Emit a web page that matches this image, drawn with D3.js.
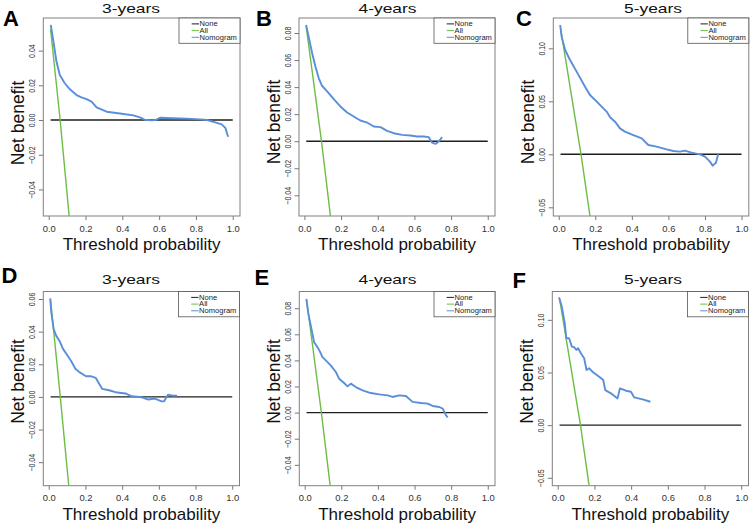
<!DOCTYPE html>
<html><head><meta charset="utf-8">
<script src="https://cdn.jsdelivr.net/npm/d3@7"></script>
<style>
body{margin:0;background:#fff}
svg{display:block;font-family:"Liberation Sans",Arial,Helvetica,sans-serif}
</style>
</head><body>
<svg id="c" width="750" height="525"></svg>
<script>
// ---------- data ----------
const panelLetters = ["A","B","C","D","E","F"];
const panelTitles = ["3-years","4-years","5-years","3-years","4-years","5-years"];
const legendLabels = ["None","All","Nomogram"];
const xTicks = [0, 0.2, 0.4, 0.6, 0.8, 1.0];
const xLimits = [-0.0296, 1.0396];

const yTicksA = [-0.04,-0.02,0,0.02,0.04];
const yTicksB = [-0.04,-0.02,0,0.02,0.04,0.06,0.08];
const yTicksC = [-0.05,0,0.05,0.10];
const yTicksD = [-0.04,-0.02,0,0.02,0.04,0.06];
const yTicksE = [-0.04,-0.02,0,0.02,0.04,0.06,0.08];
const yTicksF = [-0.05,0,0.05,0.10];

const yLimA = [-0.0553, 0.0588];
const yLimB = [-0.0553, 0.0911];
const yLimC = [-0.0582, 0.1286];
const yLimD = [-0.0544, 0.0646];
const yLimE = [-0.0560, 0.0928];
const yLimF = [-0.0575, 0.1269];

// None strategy (threshold, net benefit)
const noneLine = [[0.01,0],[1.0,0]];

// All strategy
const allA = [[0.01,0.0523],[0.062,0],[0.111,-0.0554]];
const allB = [[0.01,0.0845],[0.093,0],[0.142,-0.0553]];
const allC = [[0.01,0.119],[0.122,0],[0.171,-0.0582]];
const allD = [[0.01,0.0595],[0.063,0],[0.109,-0.0544]];
const allE = [[0.01,0.0865],[0.091,0],[0.139,-0.056]];
const allF = [[0.01,0.120],[0.124,0],[0.171,-0.0575]];

// Nomogram
const nomoA = [[.011,.0548],[.024,.0462],[.042,.0337],[.06,.026],[.087,.0212],[.115,.0177],[.151,.0144],[.178,.0131],[.205,.0121],[.233,.0106],[.26,.0073],[.315,.0048],[.387,.0038],[.46,.0027],[.496,.0015],[.52,.0002],[.56,-.0002],[.585,.0002],[.605,.0013],[.678,.001],[.75,.0008],[.824,.0004],[.86,0],[.9,-.0012],[.94,-.0025],[.96,-.0045],[.975,-.0096]];
const nomoB = [[.009,.0859],[.024,.0765],[.042,.0652],[.06,.0553],[.078,.0467],[.096,.041],[.124,.0368],[.16,.0311],[.196,.0257],[.233,.0212],[.269,.0183],[.305,.0153],[.342,.0138],[.378,.0109],[.415,.0104],[.451,.0077],[.487,.0059],[.533,.0047],[.578,.0042],[.615,.0035],[.651,.0035],[.678,.003],[.696,-.001],[.715,-.002],[.733,-.0002],[.751,.003]];
const nomoC = [[.008,.122],[.016,.111],[.035,.0984],[.062,.089],[.098,.078],[.144,.0638],[.171,.056],[.208,.0497],[.244,.0434],[.262,.0403],[.281,.0349],[.308,.0308],[.335,.0245],[.362,.0214],[.408,.0182],[.454,.0151],[.49,.0088],[.536,.0072],[.59,.0047],[.627,.0031],[.663,.0025],[.69,.0035],[.727,.0016],[.772,0],[.8,-.0022],[.827,-.0069],[.842,-.0107],[.86,-.0079],[.872,0]];
const nomoD = [[.008,.0604],[.014,.0518],[.027,.0415],[.041,.0374],[.059,.0343],[.077,.0296],[.104,.0251],[.122,.022],[.145,.0173],[.167,.0152],[.203,.0127],[.229,.0127],[.256,.0117],[.274,.0082],[.292,.0049],[.328,.0041],[.364,.0029],[.418,.0021],[.453,.0004],[.507,-.0002],[.543,-.0016],[.579,-.001],[.615,-.0027],[.629,-.0027],[.65,.0014],[.677,.0008],[.699,.0008]];
const nomoE = [[.009,.0871],[.02,.0757],[.033,.0668],[.051,.054],[.069,.0502],[.082,.0471],[.097,.0425],[.115,.04],[.142,.0362],[.17,.0311],[.188,.026],[.215,.0227],[.234,.0201],[.252,.0222],[.279,.0196],[.316,.0171],[.361,.015],[.407,.014],[.453,.0132],[.48,.012],[.516,.0132],[.553,.0127],[.589,.0082],[.635,.0074],[.672,.0069],[.699,.0051],[.735,.0043],[.754,.0031],[.772,-.002],[.781,-.0038]];
const nomoF = [[.007,.1213],[.022,.1127],[.035,.1],[.038,.0968],[.047,.0825],[.062,.0825],[.077,.0746],[.089,.074],[.102,.0714],[.111,.073],[.126,.0683],[.144,.0635],[.157,.0524],[.171,.054],[.189,.0508],[.226,.046],[.248,.0429],[.259,.0333],[.29,.0302],[.326,.0254],[.339,.0349],[.372,.0327],[.399,.0317],[.417,.0263],[.463,.0244],[.505,.0222]];

const yTickSets = [yTicksA,yTicksB,yTicksC,yTicksD,yTicksE,yTicksF];
const yLims = [yLimA,yLimB,yLimC,yLimD,yLimE,yLimF];
const allSets = [allA,allB,allC,allD,allE,allF];
const nomoSets = [nomoA,nomoB,nomoC,nomoD,nomoE,nomoF];

// ---------- layout ----------
const layout = [
  {l:43.3, r:240,   t:18,    b:216,   titleX:131,   titleY:12.7, letterX:3,   letterY:26,  ylabY:123},
  {l:299,  r:495,   t:18,    b:216,   titleX:387.5, titleY:12.7, letterX:256, letterY:26,  ylabY:122},
  {l:553.3,r:748.8, t:18,    b:216,   titleX:653,   titleY:12.7, letterX:516, letterY:26,  ylabY:122},
  {l:43.3, r:239.5, t:291.5, b:485.7, titleX:131,   titleY:284,  letterX:1.5, letterY:283, ylabY:381.5},
  {l:299.3,r:495,   t:291.5, b:485.7, titleX:387.5, titleY:284,  letterX:254.5,letterY:285, ylabY:381.5},
  {l:552.3,r:748.5, t:291.5, b:485.7, titleX:653,   titleY:284,  letterX:512.5,letterY:288, ylabY:381.5}
];
const colNone = "#1e1e1e", colAll = "#6cbd45", colNomo = "#5a8ed8";

const svg = d3.select("#c");
svg.append("rect").attr("width",750).attr("height",525).attr("fill","#fff");

panelLetters.forEach((letter,i)=>{
  const L = layout[i];
  const x = d3.scaleLinear().domain(xLimits).range([L.l, L.r]);
  const y = d3.scaleLinear().domain(yLims[i]).range([L.b, L.t]);
  const g = svg.append("g");

  const clipId = "clip"+i;
  svg.append("clipPath").attr("id",clipId).append("rect")
    .attr("x",L.l).attr("y",L.t).attr("width",L.r-L.l).attr("height",L.b-L.t);

  // y axis
  const ya = g.append("g").attr("transform",`translate(${L.l},0)`)
    .call(d3.axisLeft(y).tickValues(yTickSets[i]).tickSize(4.5).tickFormat(d3.format(".2f")));
  ya.attr("font-size",null).attr("font-family",null);
  ya.select(".domain").remove();
  ya.selectAll(".tick line").attr("stroke","#777");
  ya.selectAll(".tick text").attr("x",null).attr("dy",null)
    .attr("text-anchor","middle").attr("font-size",7).attr("fill","#333")
    .attr("transform","translate(-8.3,0) scale(1.3,1) rotate(-90)");

  // x axis
  const xa = g.append("g").attr("transform",`translate(0,${L.b})`)
    .call(d3.axisBottom(x).tickValues(xTicks).tickSize(4).tickFormat(d3.format(".1f")));
  xa.attr("font-size",null).attr("font-family",null);
  xa.select(".domain").remove();
  xa.selectAll(".tick line").attr("stroke","#777");
  xa.selectAll(".tick text").attr("y",null).attr("dy",null)
    .attr("text-anchor","middle").attr("font-size",8.2).attr("fill","#333")
    .attr("transform","translate(0,15.5) scale(1.15,1)");

  // box
  g.append("rect").attr("x",L.l).attr("y",L.t).attr("width",L.r-L.l).attr("height",L.b-L.t)
    .attr("fill","none").attr("stroke","#808080").attr("stroke-width",1);

  const line = d3.line().x(d=>x(d[0])).y(d=>y(d[1]));
  const lg = g.append("g").attr("clip-path",`url(#${clipId})`);
  lg.append("path").datum(noneLine).attr("d",line).attr("fill","none").attr("stroke",colNone).attr("stroke-width",1.4);
  lg.append("path").datum(allSets[i]).attr("d",line).attr("fill","none").attr("stroke",colAll).attr("stroke-width",1.4);
  lg.append("path").datum(nomoSets[i]).attr("d",line).attr("fill","none").attr("stroke",colNomo).attr("stroke-width",1.9).attr("stroke-linejoin","round");

  // legend
  const lw = 61, lh = 25.3;
  const leg = g.append("g").attr("transform",`translate(${L.r-lw},${L.t})`);
  leg.append("rect").attr("width",lw).attr("height",lh).attr("fill","#fff").attr("stroke","#555").attr("stroke-width",0.8);
  const legCols = [colNone, colAll, colNomo];
  const rowY = [5.9, 12.6, 19.3];
  legendLabels.forEach((lab,k)=>{
    leg.append("line").attr("x1",12.7).attr("x2",20).attr("y1",rowY[k]).attr("y2",rowY[k])
      .attr("stroke",legCols[k]).attr("stroke-width",1);
    leg.append("text").attr("transform",`translate(20.6,${rowY[k]+2.2}) scale(1.2,1)`)
      .attr("font-size",6.3).attr("fill","#222").text(lab);
  });

  // titles
  g.append("text").attr("transform",`translate(${L.titleX},${L.titleY}) scale(1.34,1)`)
    .attr("text-anchor","middle").attr("font-size",13).attr("fill","#111").text(panelTitles[i]);
  g.append("text").attr("x",L.letterX).attr("y",L.letterY).attr("font-size",22).attr("font-weight","bold")
    .attr("fill","#000").text(letter);
  g.append("text").attr("x",(L.l+L.r)/2).attr("y",L.b+33.8).attr("text-anchor","middle")
    .attr("font-size",17).attr("fill","#111").text("Threshold probability");
  g.append("text").attr("transform",`translate(${L.l-19.3},${L.ylabY}) rotate(-90)`)
    .attr("text-anchor","middle").attr("font-size",17.5).attr("fill","#111").text("Net benefit");
});
</script>
</body></html>
